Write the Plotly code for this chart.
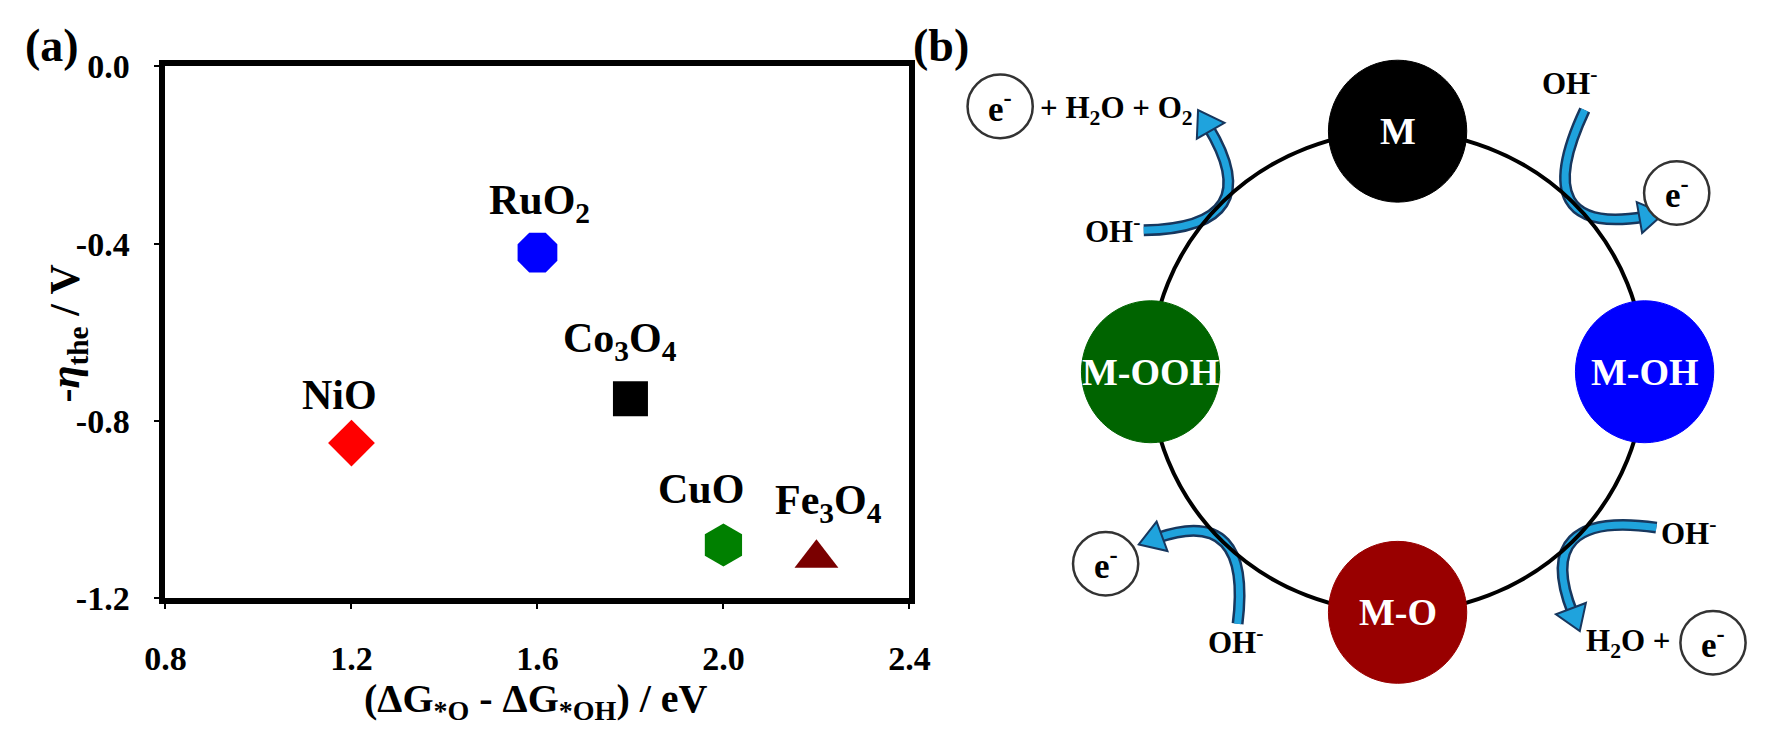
import math
import plotly.graph_objects as go

# ---------------- data: panel (a) ----------------
materials = ["RuO<sub>2</sub>", "Co<sub>3</sub>O<sub>4</sub>", "NiO", "CuO", "Fe<sub>3</sub>O<sub>4</sub>"]
dG_O_minus_OH = [1.60, 1.80, 1.20, 2.00, 2.20]
neg_overpotential = [-0.42, -0.75, -0.85, -1.08, -1.11]

x_tick_values = [0.8, 1.2, 1.6, 2.0, 2.4]
x_tick_labels = ["0.8", "1.2", "1.6", "2.0", "2.4"]
y_tick_values = [0.0, -0.4, -0.8, -1.2]
y_tick_labels = ["0.0", "-0.4", "-0.8", "-1.2"]

# ---------------- data: panel (b) OER cycle ----------------
intermediates = ["M", "M-OH", "M-O", "M-OOH"]
intermediate_angles = [90, 0, -90, 180]
step_angles = [45, -45, -135, 135]

# ---------------- styles ----------------
FONT = "Liberation Serif"
marker_symbols = ["octagon", "square", "diamond", "hexagon", "triangle-up"]
marker_colors = ["#0000FF", "#000000", "#FF0000", "#008000", "#7A0000"]
marker_sizes = [43, 35, 36, 43, 38]
label_offsets = [(2, 50), (-10, 58), (-12, 48), (-22, 56), (12, 55)]  # pixel shifts

node_colors = ["#000000", "#0000FF", "#990000", "#006400"]
node_rx, node_ry = 0.28, 0.295
arrow_tail = [(0.04, 0.37), (0.33, 0.07), (0.07, -0.33), (-0.31, -0.13)]
arrow_head = [(0.36, -0.06), (0.02, -0.36), (-0.33, 0.0), (-0.09, 0.37)]
side_texts = [
    ("OH<sup>-</sup>", 0.696, 1.206, "center"),
    ("OH<sup>-</sup>", 1.059, -0.664, "left"),
    ("H<sub>2</sub>O +", 1.115, -1.126, "right"),
    ("OH<sup>-</sup>", -0.656, -1.115, "center"),
    ("OH<sup>-</sup>", -1.154, 0.593, "center"),
    ("+ H<sub>2</sub>O + O<sub>2</sub>", -1.455, 1.087, "left"),
]
electron_positions = [(1.130, 0.743), (1.277, -1.126), (-1.182, -0.798), (-1.609, 1.103)]
electron_r = 0.132

W, H = 1772, 754

fig = go.Figure()
fig.add_trace(go.Scatter(
    x=dG_O_minus_OH, y=neg_overpotential, mode="markers",
    marker=dict(symbol=marker_symbols, color=marker_colors, size=marker_sizes, opacity=1,
                line=dict(width=0)),
    hoverinfo="skip", showlegend=False, xaxis="x", yaxis="y",
))

annotations = []
for name, xv, yv, (dx, dy) in zip(materials, dG_O_minus_OH, neg_overpotential, label_offsets):
    annotations.append(dict(x=xv, y=yv, xref="x", yref="y", text=f"<b>{name}</b>", showarrow=False,
                            xanchor="center", yanchor="middle", xshift=dx, yshift=dy,
                            font=dict(family=FONT, size=42, color="black")))

# axis titles and panel letters
annotations.append(dict(x=527 / W, y=1 - 718 / H, xref="paper", yref="paper",
                        text="<b>(ΔG<sub>*O</sub> - ΔG<sub>*OH</sub>) / eV</b>", showarrow=False,
                        xanchor="center", yanchor="middle", font=dict(family=FONT, size=40, color="black")))
annotations.append(dict(x=48 / W, y=1 - 331 / H, xref="paper", yref="paper", textangle=-90,
                        text="<b>-<i>η</i><sub>the</sub> / V</b>", showarrow=False,
                        xanchor="center", yanchor="middle", font=dict(family=FONT, size=42, color="black")))
annotations.append(dict(x=2 / W, y=1.0, xref="paper", yref="paper", text="<b>(a)</b>", showarrow=False,
                        xanchor="left", yanchor="top", font=dict(family=FONT, size=46, color="black")))
annotations.append(dict(x=912 / W, y=1.0, xref="paper", yref="paper", text="<b>(b)</b>", showarrow=False,
                        xanchor="left", yanchor="top", font=dict(family=FONT, size=46, color="black")))

shapes = []
ARROW_DARK, ARROW_LIGHT = "#17375E", "#1FA3DD"
for ang, tail, head in zip(step_angles, arrow_tail, arrow_head):
    px, py = 1.015 * math.cos(math.radians(ang)), 1.015 * math.sin(math.radians(ang))
    ax, ay = px + tail[0], py + tail[1]
    bx, by = px + head[0], py + head[1]
    qx, qy = px - (tail[0] + head[0]) / 2, py - (tail[1] + head[1]) / 2
    dxv, dyv = bx - qx, by - qy
    n = math.hypot(dxv, dyv)
    dxv, dyv = dxv / n, dyv / n
    L, w = 0.10, 0.065
    ex, ey = bx - dxv * L * 0.8, by - dyv * L * 0.8
    body = f"M {ax},{ay} Q {qx},{qy} {ex},{ey}"
    shapes.append(dict(type="path", xref="x2", yref="y2", path=body, line=dict(color=ARROW_DARK, width=12)))
    shapes.append(dict(type="path", xref="x2", yref="y2", path=body, line=dict(color=ARROW_LIGHT, width=7)))
    cx, cy = bx - dxv * L, by - dyv * L
    nx, ny = -dyv, dxv
    headp = (f"M {bx},{by} L {cx + nx * w},{cy + ny * w} L {cx - nx * w},{cy - ny * w} Z")
    shapes.append(dict(type="path", xref="x2", yref="y2", path=headp, fillcolor=ARROW_LIGHT,
                       line=dict(color=ARROW_DARK, width=2)))

# ring
shapes.append(dict(type="circle", xref="x2", yref="y2", x0=-1, x1=1, y0=-1, y1=1,
                   line=dict(color="black", width=4)))
# nodes
for name, ang, col in zip(intermediates, intermediate_angles, node_colors):
    cx, cy = math.cos(math.radians(ang)), math.sin(math.radians(ang))
    shapes.append(dict(type="circle", xref="x2", yref="y2", x0=cx - node_rx, x1=cx + node_rx,
                       y0=cy - node_ry, y1=cy + node_ry, fillcolor=col, line=dict(color=col, width=1)))
    annotations.append(dict(x=cx, y=cy, xref="x2", yref="y2", text=f"<b>{name}</b>", showarrow=False,
                            xanchor="center", yanchor="middle",
                            font=dict(family=FONT, size=38, color="white")))
# electrons
for ex_, ey_ in electron_positions:
    shapes.append(dict(type="circle", xref="x2", yref="y2", x0=ex_ - electron_r, x1=ex_ + electron_r,
                       y0=ey_ - electron_r, y1=ey_ + electron_r, fillcolor="white",
                       line=dict(color="#333333", width=2.5)))
    annotations.append(dict(x=ex_, y=ey_, xref="x2", yref="y2", text="<b>e<sup>-</sup></b>", showarrow=False,
                            xanchor="center", yanchor="middle",
                            font=dict(family=FONT, size=35, color="black")))
for txt, tx, ty, anchor in side_texts:
    annotations.append(dict(x=tx, y=ty, xref="x2", yref="y2", text=f"<b>{txt}</b>", showarrow=False,
                            xanchor=anchor, yanchor="middle",
                            font=dict(family=FONT, size=31, color="black")))

tickfont = dict(family=FONT, size=34, color="black", weight="bold")
axis_common = dict(showline=True, linewidth=6, linecolor="black", mirror=True, ticks="outside",
                   ticklen=5, tickwidth=2, tickcolor="black", showgrid=False, zeroline=False,
                   tickfont=tickfont)

# panel (b) axes: ring centre at pixel (1410, 372), 253 px per unit
b_left_px = 921
R_PX, CX_PX, CY_PX = 253.0, 1410.0, 372.0

fig.update_layout(
    width=W, height=H, margin=dict(l=0, r=0, t=0, b=0), autosize=False,
    paper_bgcolor="white", plot_bgcolor="rgba(0,0,0,0)", showlegend=False,
    xaxis=dict(domain=[148 / W, 910 / W], range=[0.8, 2.4], tickvals=x_tick_values, ticktext=x_tick_labels,
               ticklabelstandoff=20, **axis_common),
    yaxis=dict(domain=[1 - 610 / H, 1 - 51 / H], range=[-1.2, 0.0], tickvals=y_tick_values,
               ticktext=y_tick_labels, ticklabelstandoff=18, **axis_common),
    xaxis2=dict(domain=[b_left_px / W, 1.0], range=[(b_left_px - CX_PX) / R_PX, (W - CX_PX) / R_PX],
                visible=False, anchor="y2"),
    yaxis2=dict(domain=[0, 1], range=[(CY_PX - H) / R_PX, CY_PX / R_PX], visible=False, anchor="x2"),
    shapes=shapes, annotations=annotations,
)

fig.write_html("out.html", config={"displayModeBar": False, "staticPlot": True},
               post_script="document.body.style.margin='0px';document.body.style.overflow='hidden';")
